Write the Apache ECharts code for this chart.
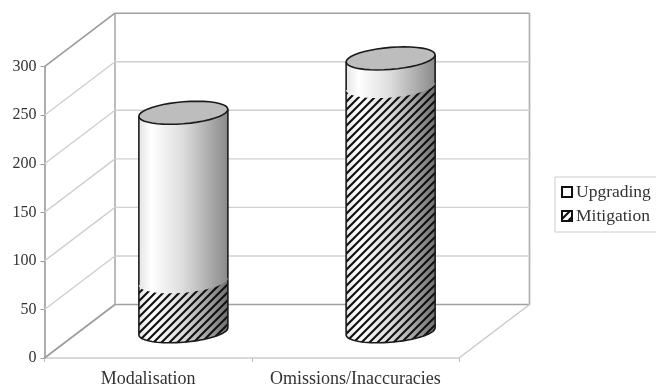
<!DOCTYPE html>
<html>
<head>
<meta charset="utf-8">
<style>html,body{margin:0;padding:0;background:#fff;overflow:hidden}</style>
<script src="https://cdn.jsdelivr.net/npm/echarts@6/dist/echarts.min.js"></script>
</head>
<body>
<div id="main" style="width:656px;height:384px"></div>
<script>
var categories = ['Modalisation', 'Omissions/Inaccuracies'];
var mitigation = [51, 252];
var upgrading = [174, 29];
var yTicks = [0, 50, 100, 150, 200, 250, 300];

var FONT = '"Liberation Serif"';
// 3D look: how far the back wall sits from the front of the floor
var DEPTH_X = 70.5, DEPTH_Y = -53.5;
var CYL_A = 44.5, CYL_B = 11, CYL_TILT = 0.079;

function hatchCanvas(bg) {
    var c = document.createElement('canvas');
    c.width = 8; c.height = 8;
    var ctx = c.getContext('2d');
    if (bg) {
        ctx.fillStyle = bg;
        ctx.fillRect(0, 0, 8, 8);
    }
    ctx.strokeStyle = '#111';
    ctx.lineWidth = 2.1;
    ctx.beginPath();
    ctx.moveTo(-2, 2); ctx.lineTo(2, -2);
    ctx.moveTo(-2, 10); ctx.lineTo(10, -2);
    ctx.moveTo(6, 10); ctx.lineTo(10, 6);
    ctx.stroke();
    return c;
}
var hatch = { image: hatchCanvas(null), repeat: 'repeat' };
var hatchIcon = { image: hatchCanvas('#fff'), repeat: 'repeat' };

// points of an ellipse arc, t in degrees
function arc(cx, cy, from, to) {
    var pts = [], n = 40;
    for (var i = 0; i <= n; i++) {
        var t = (from + (to - from) * i / n) * Math.PI / 180;
        var ca = Math.cos(t);
        pts.push([cx + CYL_A * ca, cy - CYL_B * Math.sin(t) - CYL_TILT * CYL_A * ca]);
    }
    return pts;
}

function bodyGradient(light) {
    return new echarts.graphic.LinearGradient(0, 0, 1, 0, [
        { offset: 0, color: '#e4e4e4' },
        { offset: 0.14, color: '#ffffff' },
        { offset: 0.5, color: '#dcdcdc' },
        { offset: 1, color: light ? '#8a8a8a' : '#707070' }
    ]);
}

function renderCylinder(isTop) {
    return function (params, api) {
        var bottom = api.coord([api.value(0), api.value(1)]);
        var top = api.coord([api.value(0), api.value(2)]);
        var cx = bottom[0] + DEPTH_X / 2;
        var y0 = bottom[1] + DEPTH_Y / 2;
        var y1 = top[1] + DEPTH_Y / 2;

        // front of the bottom edge goes left to right, then back over the top edge
        var lower = arc(cx, y0, 180, 360);
        var upper = arc(cx, y1, 0, 180);
        var outline = lower.concat(upper);
        var children = [{
            type: 'polygon',
            shape: { points: outline },
            style: { fill: bodyGradient(isTop), stroke: null }
        }];
        if (!isTop) {
            children.push({
                type: 'polygon',
                shape: { points: outline },
                style: { fill: hatch, stroke: null }
            });
            children.push({
                type: 'polyline',
                shape: { points: [[cx - CYL_A, y1 + CYL_TILT * CYL_A]].concat(lower).concat([[cx + CYL_A, y1 - CYL_TILT * CYL_A]]) },
                style: { fill: null, stroke: '#1a1a1a', lineWidth: 1.6 }
            });
        } else {
            children.push({
                type: 'line',
                shape: { x1: cx - CYL_A, y1: y0 + CYL_TILT * CYL_A, x2: cx - CYL_A, y2: y1 + CYL_TILT * CYL_A },
                style: { stroke: '#1a1a1a', lineWidth: 1.6 }
            });
            children.push({
                type: 'line',
                shape: { x1: cx + CYL_A, y1: y0 - CYL_TILT * CYL_A, x2: cx + CYL_A, y2: y1 - CYL_TILT * CYL_A },
                style: { stroke: '#1a1a1a', lineWidth: 1.6 }
            });
            children.push({
                type: 'polygon',
                shape: { points: arc(cx, y1, 0, 360) },
                style: { fill: '#bdbdbd', stroke: '#1a1a1a', lineWidth: 1.6 }
            });
        }
        return { type: 'group', children: children };
    };
}

function renderWalls(params, api) {
    var v = api.value(1);
    var y = api.coord([0, v])[1];
    var sys = params.coordSys;
    var left = sys.x, right = sys.x + sys.width;
    var edge = v === 0 || v === yTicks[yTicks.length - 1];
    var children = [{
        type: 'line',
        shape: { x1: left, y1: y, x2: left + DEPTH_X, y2: y + DEPTH_Y },
        style: { stroke: edge ? '#9a9a9a' : '#cfcfcf', lineWidth: edge ? 1.6 : 1.4 }
    }, {
        type: 'line',
        shape: { x1: left + DEPTH_X, y1: y + DEPTH_Y, x2: right + DEPTH_X, y2: y + DEPTH_Y },
        style: { stroke: edge ? '#a0a0a0' : '#d0d0d0', lineWidth: edge ? 1.6 : 1.4 }
    }];
    if (v === 0) {
        // floor front-right edge, plus the upright edges of the back wall
        var yTop = api.coord([0, yTicks[yTicks.length - 1]])[1];
        children.push({
            type: 'line',
            shape: { x1: right, y1: y, x2: right + DEPTH_X, y2: y + DEPTH_Y },
            style: { stroke: '#c8c8c8', lineWidth: 1.4 }
        });
        children.push({
            type: 'line',
            shape: { x1: left + DEPTH_X, y1: y + DEPTH_Y, x2: left + DEPTH_X, y2: yTop + DEPTH_Y },
            style: { stroke: '#a0a0a0', lineWidth: 1.4 }
        });
        children.push({
            type: 'line',
            shape: { x1: right + DEPTH_X, y1: y + DEPTH_Y, x2: right + DEPTH_X, y2: yTop + DEPTH_Y },
            style: { stroke: '#b4b4b4', lineWidth: 1.8 }
        });
    }
    return { type: 'group', children: children };
}

var wallData = yTicks.map(function (v) { return [0, v]; });
var mitigationData = mitigation.map(function (v, i) { return [i, 0, v]; });
var upgradingData = upgrading.map(function (v, i) { return [i, mitigation[i], mitigation[i] + v]; });

var myChart = echarts.init(document.getElementById('main'), null, { renderer: 'canvas' });
var option = {
    animation: false,
    backgroundColor: '#fff',
    textStyle: { fontFamily: FONT },
    grid: { left: 44.5, top: 66.7, width: 414.5, height: 291.3, outerBoundsMode: 'none' },
    legend: {
        left: 555, top: 177,
        orient: 'vertical',
        selectedMode: false,
        padding: [6, 20, 7, 6],
        itemWidth: 10, itemHeight: 10, itemGap: 6,
        icon: 'rect',
        borderColor: '#cccccc', borderWidth: 1,
        textStyle: { fontFamily: FONT, fontSize: 17.5, color: '#333', padding: [0, 0, 0, -1] },
        data: [
            { name: 'Upgrading', itemStyle: { color: '#fff', borderColor: '#111', borderWidth: 2 } },
            { name: 'Mitigation', itemStyle: { color: hatchIcon, borderColor: '#111', borderWidth: 2 } }
        ]
    },
    xAxis: {
        type: 'category',
        data: categories,
        axisLine: { lineStyle: { color: '#cccccc', width: 1.6 } },
        axisTick: { show: true, length: 4, lineStyle: { color: '#bbbbbb' } },
        axisLabel: { fontFamily: FONT, fontSize: 18, color: '#333', margin: 12, interval: 0, hideOverlap: false },
        splitLine: { show: false }
    },
    yAxis: {
        type: 'value',
        min: 0, max: 300, interval: 50,
        axisLine: { show: true, lineStyle: { color: '#999999', width: 1.6 } },
        axisTick: { show: true, length: 4, lineStyle: { color: '#999999' } },
        axisLabel: { fontFamily: FONT, fontSize: 16, color: '#333', margin: 8 },
        splitLine: { show: false }
    },
    series: [
        { type: 'custom', name: 'walls', silent: true, z: 1, renderItem: renderWalls, encode: { x: 0, y: 1 }, data: wallData },
        { type: 'custom', name: 'Mitigation', silent: true, z: 2, itemStyle: { color: '#888' }, renderItem: renderCylinder(false), encode: { x: 0, y: [1, 2] }, data: mitigationData },
        { type: 'custom', name: 'Upgrading', silent: true, z: 3, itemStyle: { color: '#fff' }, renderItem: renderCylinder(true), encode: { x: 0, y: [1, 2] }, data: upgradingData }
    ]
};
myChart.setOption(option);
</script>
</body>
</html>
